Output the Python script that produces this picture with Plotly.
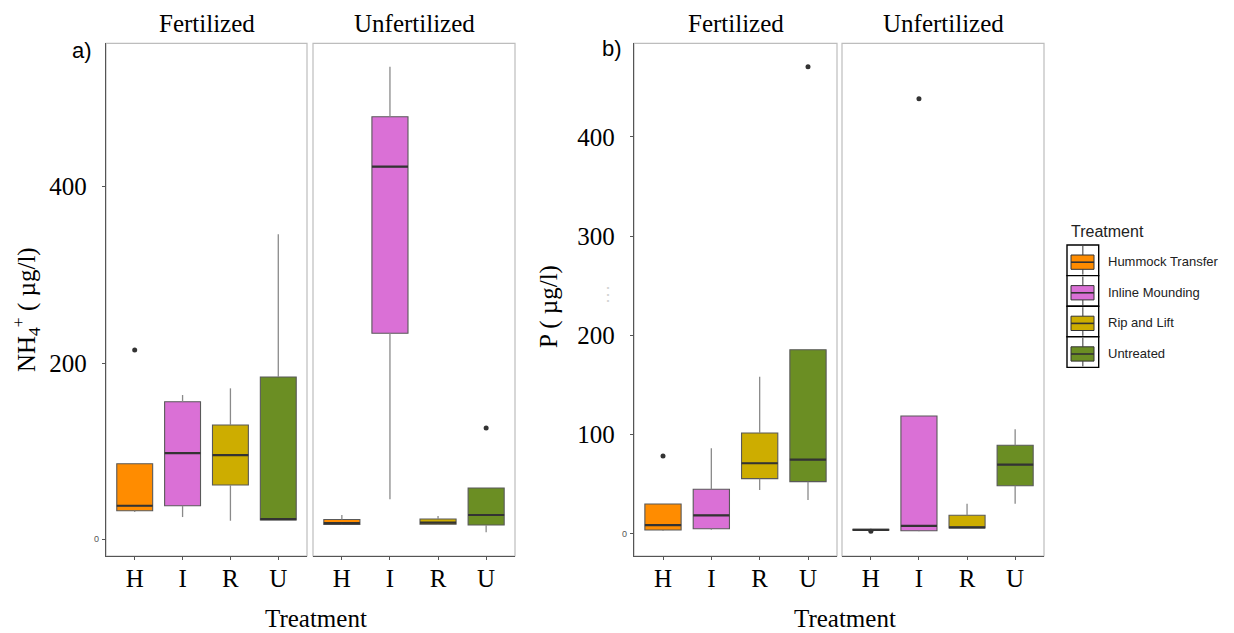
import plotly.graph_objects as go

# ---- data -------------------------------------------------------------
TREATMENTS = ["H", "I", "R", "U"]
TREATMENT_NAMES = ["Hummock Transfer", "Inline Mounding", "Rip and Lift", "Untreated"]
COLORS = ["#FF8C00", "#DA70D6", "#CDAD00", "#6B8E23"]
STRIPS = ["Fertilized", "Unfertilized"]

# NH4+ (µg/l), fertilized plots
NH4_F_LOW = [31.0, 25.3, 21.1, 21.9]
NH4_F_Q1 = [32.4, 38.1, 61.6, 21.9]
NH4_F_MED = [38.1, 97.9, 95.6, 23.0]
NH4_F_Q3 = [85.8, 156.0, 129.7, 184.1]
NH4_F_HIGH = [85.8, 163.7, 171.3, 346.0]
NH4_F_OUT_X = ["H"]
NH4_F_OUT_Y = [214.8]

# NH4+ (µg/l), unfertilized plots
NH4_U_LOW = [16.5, 45.4, 16.8, 7.9]
NH4_U_Q1 = [16.8, 233.7, 17.2, 16.2]
NH4_U_MED = [18.3, 422.7, 19.0, 27.6]
NH4_U_Q3 = [22.5, 479.4, 23.0, 58.2]
NH4_U_HIGH = [27.5, 536.0, 26.4, 58.2]
NH4_U_OUT_X = ["U"]
NH4_U_OUT_Y = [126.3]

# P (µg/l), fertilized plots
P_F_LOW = [3.0, 4.3, 44.3, 34.2]
P_F_Q1 = [4.0, 5.3, 55.7, 52.7]
P_F_MED = [8.8, 18.8, 71.2, 74.8]
P_F_Q3 = [30.2, 45.0, 101.7, 185.6]
P_F_HIGH = [30.2, 86.3, 158.4, 185.6]
P_F_OUT_X = ["H", "U"]
P_F_OUT_Y = [78.5, 470.6]

# P (µg/l), unfertilized plots
P_U_LOW = [3.8, 2.7, 6.0, 30.5]
P_U_Q1 = [3.8, 3.3, 6.0, 48.6]
P_U_MED = [4.2, 8.1, 6.7, 69.8]
P_U_Q3 = [4.6, 118.8, 18.8, 89.3]
P_U_HIGH = [4.6, 118.8, 30.5, 105.4]
P_U_OUT_X = ["H", "I"]
P_U_OUT_Y = [2.8, 438.4]

NH4_TICKS = [0, 200, 400]
P_TICKS = [0, 100, 200, 300, 400]

# ---- page geometry (pixels) ------------------------------------------
W, H = 1234, 633
SERIF = "Liberation Serif"
SANS = "Liberation Sans"
BOX_W = 0.75


def fx(px):
    return px / W


def fy(py):
    return 1 - py / H


PANEL_TOP, PANEL_BOTTOM = 43.3, 556
facets = [
    dict(xa="x", ya="y", l=106, r=307, yr=[-18.9, 562.7],
         stats=(NH4_F_LOW, NH4_F_Q1, NH4_F_MED, NH4_F_Q3, NH4_F_HIGH),
         out=(NH4_F_OUT_X, NH4_F_OUT_Y), strip=STRIPS[0], ticks=NH4_TICKS),
    dict(xa="x2", ya="y2", l=313, r=515, yr=[-18.9, 562.7],
         stats=(NH4_U_LOW, NH4_U_Q1, NH4_U_MED, NH4_U_Q3, NH4_U_HIGH),
         out=(NH4_U_OUT_X, NH4_U_OUT_Y), strip=STRIPS[1], ticks=None),
    dict(xa="x3", ya="y3", l=634, r=837, yr=[-22.2, 494.2],
         stats=(P_F_LOW, P_F_Q1, P_F_MED, P_F_Q3, P_F_HIGH),
         out=(P_F_OUT_X, P_F_OUT_Y), strip=STRIPS[0], ticks=P_TICKS),
    dict(xa="x4", ya="y4", l=842, r=1044, yr=[-22.2, 494.2],
         stats=(P_U_LOW, P_U_Q1, P_U_MED, P_U_Q3, P_U_HIGH),
         out=(P_U_OUT_X, P_U_OUT_Y), strip=STRIPS[1], ticks=None),
]

fig = go.Figure()
layout = dict(
    width=W, height=H, autosize=False,
    margin=dict(l=0, r=0, t=0, b=0),
    paper_bgcolor="white", plot_bgcolor="white",
    showlegend=False,
    shapes=[], annotations=[],
)

for f in facets:
    low, q1, med, q3, high = f["stats"]
    for i, t in enumerate(TREATMENTS):
        fig.add_trace(go.Box(
            x=[i], q1=[q1[i]], median=[med[i]], q3=[q3[i]],
            lowerfence=[q1[i]], upperfence=[q3[i]],
            width=BOX_W, whiskerwidth=0,
            fillcolor=COLORS[i], line=dict(color="#595959", width=1.1),
            xaxis=f["xa"], yaxis=f["ya"], hoverinfo="skip",
        ))
    # whiskers
    wx, wy = [], []
    for i in range(len(TREATMENTS)):
        wx += [i, i, None, i, i, None]
        wy += [low[i], q1[i], None, q3[i], high[i], None]
    fig.add_trace(go.Scatter(x=wx, y=wy, mode="lines",
                             line=dict(color="#8a8a8a", width=1.3),
                             xaxis=f["xa"], yaxis=f["ya"], hoverinfo="skip"))
    # medians
    mx, my = [], []
    for i in range(len(TREATMENTS)):
        mx += [i - BOX_W / 2, i + BOX_W / 2, None]
        my += [med[i], med[i], None]
    fig.add_trace(go.Scatter(x=mx, y=my, mode="lines",
                             line=dict(color="#333333", width=2.2),
                             xaxis=f["xa"], yaxis=f["ya"], hoverinfo="skip"))
    # outliers
    ox, oy = f["out"]
    fig.add_trace(go.Scatter(x=[TREATMENTS.index(c) for c in ox], y=oy,
                             mode="markers",
                             marker=dict(color="#333333", size=5),
                             xaxis=f["xa"], yaxis=f["ya"], hoverinfo="skip"))

    xkey = "xaxis" + f["xa"][1:]
    ykey = "yaxis" + f["ya"][1:]
    layout[xkey] = dict(
        domain=[fx(f["l"]), fx(f["r"])], anchor=f["ya"],
        range=[-0.6, 3.6], tickvals=list(range(4)), ticktext=TREATMENTS,
        showgrid=False, zeroline=False, fixedrange=True,
        showline=True, linecolor="#555555", linewidth=1.3,
        ticks="outside", ticklen=3, tickcolor="#555555", tickwidth=1,
        ticklabelstandoff=-3,
        tickfont=dict(family=SERIF, size=25, color="black"),
    )
    yax = dict(
        domain=[fy(PANEL_BOTTOM), fy(PANEL_TOP)], anchor=f["xa"],
        range=f["yr"], showgrid=False, zeroline=False, fixedrange=True,
    )
    if f["ticks"]:
        yax.update(
            tickvals=f["ticks"],
            ticktext=[""] + [str(v) for v in f["ticks"][1:]],
            showline=True, linecolor="#555555", linewidth=1.3,
            ticks="outside", ticklen=3, tickcolor="#555555", tickwidth=1,
            ticklabelstandoff=10,
            tickfont=dict(family=SERIF, size=25, color="black"),
        )
        # the zero label is set in much smaller grey type beside the axis
        layout["annotations"].append(dict(
            xref="paper", yref=f["ya"], x=fx(f["l"] - 5), y=f["ticks"][0],
            text=str(f["ticks"][0]), showarrow=False,
            xanchor="right", yanchor="middle",
            font=dict(family=SANS, size=9, color="#555555"),
        ))
    else:
        yax.update(showticklabels=False, ticks="", showline=False)
    layout[ykey] = yax

    # light panel frame
    layout["shapes"].append(dict(
        type="rect", xref="paper", yref="paper", layer="below",
        x0=fx(f["l"]), x1=fx(f["r"]), y0=fy(PANEL_BOTTOM), y1=fy(PANEL_TOP),
        line=dict(color="#bdbdbd", width=1.2),
    ))
    # facet strip label
    layout["annotations"].append(dict(
        xref="paper", yref="paper", x=fx((f["l"] + f["r"]) / 2), y=fy(23),
        text=f["strip"], showarrow=False, xanchor="center", yanchor="middle",
        font=dict(family=SERIF, size=25, color="black"),
    ))

# titles and panel tags
texts = [
    dict(x=316, y=618, text="Treatment", size=25, family=SERIF, angle=0),
    dict(x=845, y=618, text="Treatment", size=25, family=SERIF, angle=0),
    dict(x=26, y=310, text="NH<sub>4</sub><sup>+</sup> ( µg/l)", size=25, family=SERIF, angle=-90),
    dict(x=549, y=307, text="P ( µg/l)", size=25, family=SERIF, angle=-90),
    dict(x=82, y=50, text="a)", size=22, family=SANS, angle=0),
    dict(x=612, y=49, text="b)", size=22, family=SANS, angle=0),
]
for t in texts:
    layout["annotations"].append(dict(
        xref="paper", yref="paper", x=fx(t["x"]), y=fy(t["y"]),
        text=t["text"], showarrow=False, xanchor="center", yanchor="middle",
        textangle=t["angle"], font=dict(family=t["family"], size=t["size"], color="black"),
    ))
layout["annotations"].append(dict(
    xref="paper", yref="paper", x=fx(608), y=fy(294), text="⋮", showarrow=False,
    xanchor="center", yanchor="middle", font=dict(family=SANS, size=18, color="#d4d4d4"),
))

# legend drawn as ggplot-style keys
LEG_X0, LEG_X1, LEG_TOP, ROW_H = 1067, 1098.7, 245, 30.6
layout["annotations"].append(dict(
    xref="paper", yref="paper", x=fx(1069), y=fy(231), text="Treatment",
    showarrow=False, xanchor="left", yanchor="middle",
    font=dict(family=SANS, size=16, color="#222222"),
))
xc = (LEG_X0 + LEG_X1) / 2
for i, (name, col) in enumerate(zip(TREATMENT_NAMES, COLORS)):
    top = LEG_TOP + i * ROW_H
    layout["shapes"] += [
        dict(type="rect", xref="paper", yref="paper",
             x0=fx(LEG_X0), x1=fx(LEG_X1), y0=fy(top + ROW_H), y1=fy(top),
             line=dict(color="black", width=1.4), fillcolor="white"),
        dict(type="line", xref="paper", yref="paper",
             x0=fx(xc), x1=fx(xc), y0=fy(top + 1), y1=fy(top + 10),
             line=dict(color="#333333", width=1)),
        dict(type="line", xref="paper", yref="paper",
             x0=fx(xc), x1=fx(xc), y0=fy(top + 24.3), y1=fy(top + ROW_H - 1),
             line=dict(color="#333333", width=1)),
        dict(type="rect", xref="paper", yref="paper",
             x0=fx(1071), x1=fx(1094), y0=fy(top + 24.3), y1=fy(top + 10),
             line=dict(color="#333333", width=1), fillcolor=col),
        dict(type="line", xref="paper", yref="paper",
             x0=fx(1071), x1=fx(1094), y0=fy(top + 17.2), y1=fy(top + 17.2),
             line=dict(color="#333333", width=1.6)),
    ]
    layout["annotations"].append(dict(
        xref="paper", yref="paper", x=fx(1106), y=fy(top + 16.5), text=name,
        showarrow=False, xanchor="left", yanchor="middle",
        font=dict(family=SANS, size=13, color="#222222"),
    ))

fig.update_layout(**layout)
fig.write_html("out.html")
